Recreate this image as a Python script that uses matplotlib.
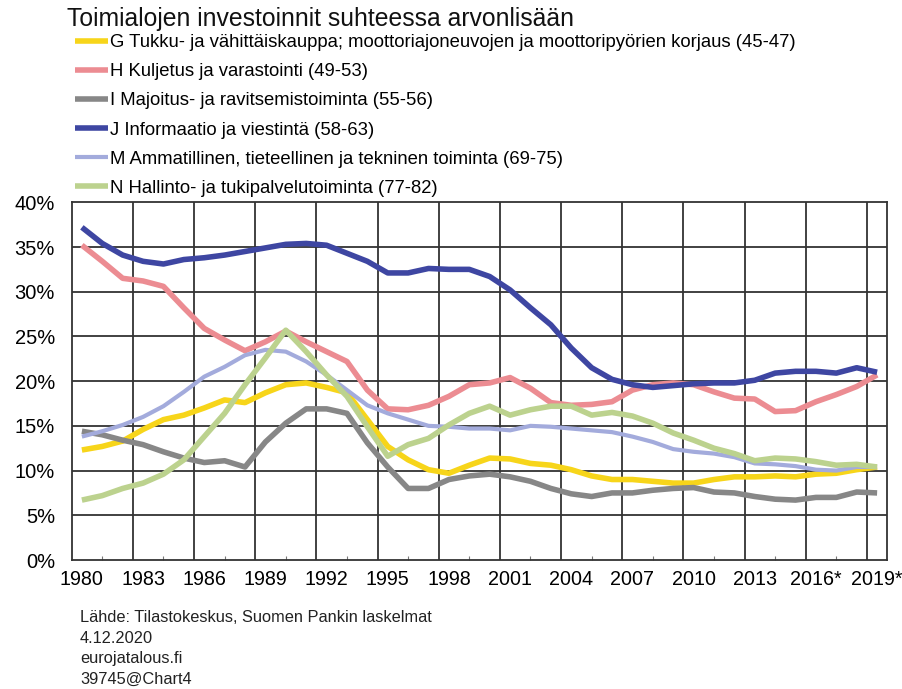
import matplotlib
matplotlib.use("Agg")
import matplotlib.pyplot as plt
import numpy as np

plt.rcParams['font.family'] = ['Liberation Sans', 'DejaVu Sans']

years = list(range(1980, 2020))
tick_labels = ['1980', '1983', '1986', '1989', '1992', '1995', '1998', '2001',
               '2004', '2007', '2010', '2013', '2016*', '2019*']

g_trade = [12.3, 12.7, 13.3, 14.6, 15.7, 16.2, 17.0, 17.9, 17.6, 18.7,
           19.6, 19.8, 19.3, 18.7, 15.7, 12.7, 11.2, 10.1, 9.7, 10.6,
           11.4, 11.3, 10.8, 10.6, 10.1, 9.4, 9.0, 9.0, 8.8, 8.6,
           8.6, 9.0, 9.3, 9.3, 9.4, 9.3, 9.6, 9.7, 10.1, 10.4]
h_transport = [35.2, 33.4, 31.5, 31.2, 30.6, 28.2, 25.9, 24.6, 23.4, 24.4,
               25.6, 24.4, 23.3, 22.2, 19.0, 16.9, 16.8, 17.3, 18.3, 19.6,
               19.8, 20.4, 19.2, 17.6, 17.3, 17.4, 17.7, 19.0, 19.6, 19.8,
               19.6, 18.8, 18.1, 18.0, 16.6, 16.7, 17.7, 18.5, 19.4, 20.7]
i_accommodation = [14.4, 14.0, 13.4, 12.9, 12.1, 11.4, 10.9, 11.1, 10.4, 13.2,
                   15.3, 16.9, 16.9, 16.4, 13.1, 10.4, 8.0, 8.0, 9.0, 9.4,
                   9.6, 9.3, 8.8, 8.0, 7.4, 7.1, 7.5, 7.5, 7.8, 8.0,
                   8.1, 7.6, 7.5, 7.1, 6.8, 6.7, 7.0, 7.0, 7.6, 7.5]
j_information = [37.2, 35.4, 34.1, 33.4, 33.1, 33.6, 33.8, 34.1, 34.5, 34.9,
                 35.3, 35.4, 35.2, 34.3, 33.4, 32.1, 32.1, 32.6, 32.5, 32.5,
                 31.7, 30.2, 28.2, 26.3, 23.7, 21.5, 20.2, 19.6, 19.3, 19.5,
                 19.7, 19.8, 19.8, 20.1, 20.9, 21.1, 21.1, 20.9, 21.5, 21.0]
m_professional = [13.8, 14.4, 15.1, 16.0, 17.2, 18.8, 20.5, 21.6, 22.9, 23.5,
                  23.3, 22.2, 20.7, 19.0, 17.3, 16.4, 15.7, 15.0, 14.9, 14.7,
                  14.7, 14.5, 15.0, 14.9, 14.7, 14.5, 14.3, 13.8, 13.2, 12.4,
                  12.1, 11.9, 11.5, 10.8, 10.7, 10.5, 10.1, 10.0, 10.4, 10.4]
n_admin = [6.7, 7.2, 8.0, 8.6, 9.6, 11.2, 13.8, 16.4, 19.6, 22.6,
           25.7, 23.3, 20.7, 18.3, 14.9, 11.6, 12.9, 13.6, 15.1, 16.4,
           17.2, 16.2, 16.8, 17.2, 17.2, 16.2, 16.5, 16.1, 15.3, 14.2,
           13.4, 12.5, 11.9, 11.1, 11.4, 11.3, 11.0, 10.6, 10.7, 10.4]

series_labels = [
    'G Tukku- ja vähittäiskauppa; moottoriajoneuvojen ja moottoripyörien korjaus (45-47)',
    'H Kuljetus ja varastointi (49-53)',
    'I Majoitus- ja ravitsemistoiminta (55-56)',
    'J Informaatio ja viestintä (58-63)',
    'M Ammatillinen, tieteellinen ja tekninen toiminta (69-75)',
    'N Hallinto- ja tukipalvelutoiminta (77-82)',
]
series_values = [g_trade, h_transport, i_accommodation, j_information, m_professional, n_admin]
colors = ['#F7D51A', '#EC8C92', '#878787', '#3E46A2', '#A3ABDC', '#BCD28E']
widths = [4.0, 4.0, 4.0, 4.0, 3.0, 4.0]

fig = plt.figure(figsize=(9.02, 6.89), dpi=100)
ax = fig.add_axes([71.7/902, 1-560/689, (887.3-71.7)/902, (560-202.3)/689])

handles = []
for vals, lab, c, w in zip(series_values, series_labels, colors, widths):
    h, = ax.plot(years, vals, color=c, lw=w, label=lab, solid_capstyle='butt', zorder=3)
    handles.append(h)

ax.set_xlim(1979.5, 2019.5)
ax.set_ylim(0, 40)
ax.set_yticks(np.arange(0, 41, 5))
ax.set_yticklabels([f'{v}%' for v in range(0, 41, 5)], fontsize=14.5)
ax.set_xticks(np.arange(1980, 2020, 3))
ax.set_xticklabels(tick_labels, fontsize=14.2)
ax.tick_params(axis='x', length=0, pad=7)
ax.tick_params(axis='y', length=0, pad=12)

for xv in np.arange(1982.5, 2019, 3):
    ax.axvline(xv, color='#333333', lw=1.3, zorder=1)
for yv in range(5, 40, 5):
    ax.axhline(yv, color='#333333', lw=1.3, zorder=1)
for s in ax.spines.values():
    s.set_color('#333333')
    s.set_linewidth(1.3)

ax.set_xticks(np.arange(1981, 2020, 3), minor=True)
ax.tick_params(axis='x', which='minor', direction='in', length=3, color='#777777', width=0.8)

fig.text(67/902, 1-19/689, 'Toimialojen investoinnit suhteessa arvonlisään',
         fontsize=17.8, va='center', ha='left', color='#111111')

leg = fig.legend(handles=handles, loc='upper left', bbox_to_anchor=(75/902, 1-34/689),
                 frameon=False, fontsize=13.3, handlelength=1.8, handletextpad=0.1,
                 labelspacing=0.66, borderpad=0, borderaxespad=0)

foot = ['Lähde: Tilastokeskus, Suomen Pankin laskelmat', '4.12.2020', 'eurojatalous.fi', '39745@Chart4']
for i, t in enumerate(foot):
    fig.text(80/902, 1-(618+20.5*i)/689, t, fontsize=11.8, va='center', ha='left', color='#222222')

fig.savefig('out.png', dpi=100)
